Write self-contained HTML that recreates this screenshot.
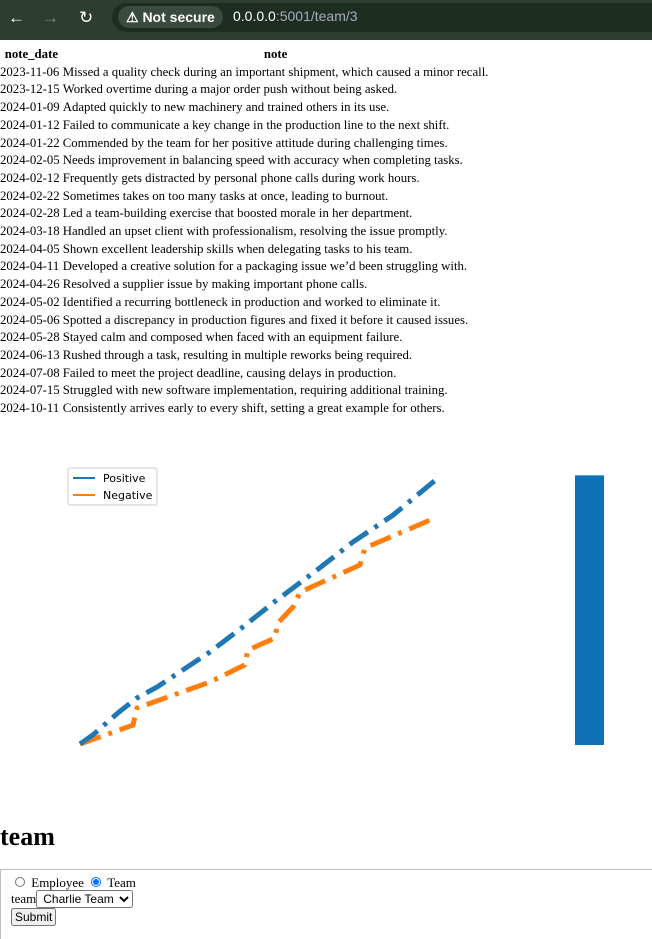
<!DOCTYPE html>
<html><head><meta charset="utf-8"><style>
body{margin:0;width:652px;height:928px;overflow:hidden;background:#fff;font-family:"Liberation Serif",serif;font-size:12.8px;position:relative}
#bar{position:absolute;left:0;top:0;width:652px;height:40px;background:#2c3e2f;color:#fff;font-family:"Liberation Sans",sans-serif}
#pill{position:absolute;left:112px;top:3px;width:560px;height:29px;border-radius:15px;background:#1e2d22}
#ns{position:absolute;left:118px;top:6px;height:22px;padding:0 8px;border-radius:11px;background:#3a4a3e;font-size:14px;font-weight:bold;line-height:22px}
#url{position:absolute;left:233px;top:8px;font-size:14px;color:#fff}
table{position:absolute;left:0;top:46px;border-collapse:collapse}
td,th{padding:0;line-height:17.7px;white-space:nowrap;text-align:left}
td:first-child{padding-right:3px}
th{text-align:center}
h1{position:absolute;left:0;top:822px;margin:0;font-size:26px}
form{position:absolute;left:0;top:869px;width:660px;height:70px;border-top:1px solid #bbb;border-left:1px solid #bbb;padding:6px 10px;box-sizing:border-box;font-size:13px;line-height:14px}
select,button{font-family:"Liberation Sans",sans-serif;font-size:12px;padding:0 2px;margin:0}
</style></head><body>
<div id="bar">
<span style="position:absolute;left:8px;top:8px;font-size:17px">←</span>
<span style="position:absolute;left:42px;top:8px;font-size:17px;color:#889">→</span>
<span style="position:absolute;left:79px;top:8px;font-size:17px">↻</span>
<div id="pill"></div>
<div id="ns">⚠ Not secure</div>
<div id="url">0.0.0.0<span style="color:#aab">:5001/team/3</span></div>
</div>
<table>
<tr><th>note_date</th><th>note</th></tr>
<tr><td>2023-11-06</td><td>Missed a quality check during an important shipment, which caused a minor recall.</td></tr>
<tr><td>2023-12-15</td><td>Worked overtime during a major order push without being asked.</td></tr>
<tr><td>2024-01-09</td><td>Adapted quickly to new machinery and trained others in its use.</td></tr>
<tr><td>2024-01-12</td><td>Failed to communicate a key change in the production line to the next shift.</td></tr>
<tr><td>2024-01-22</td><td>Commended by the team for her positive attitude during challenging times.</td></tr>
<tr><td>2024-02-05</td><td>Needs improvement in balancing speed with accuracy when completing tasks.</td></tr>
<tr><td>2024-02-12</td><td>Frequently gets distracted by personal phone calls during work hours.</td></tr>
<tr><td>2024-02-22</td><td>Sometimes takes on too many tasks at once, leading to burnout.</td></tr>
<tr><td>2024-02-28</td><td>Led a team-building exercise that boosted morale in her department.</td></tr>
<tr><td>2024-03-18</td><td>Handled an upset client with professionalism, resolving the issue promptly.</td></tr>
<tr><td>2024-04-05</td><td>Shown excellent leadership skills when delegating tasks to his team.</td></tr>
<tr><td>2024-04-11</td><td>Developed a creative solution for a packaging issue we’d been struggling with.</td></tr>
<tr><td>2024-04-26</td><td>Resolved a supplier issue by making important phone calls.</td></tr>
<tr><td>2024-05-02</td><td>Identified a recurring bottleneck in production and worked to eliminate it.</td></tr>
<tr><td>2024-05-06</td><td>Spotted a discrepancy in production figures and fixed it before it caused issues.</td></tr>
<tr><td>2024-05-28</td><td>Stayed calm and composed when faced with an equipment failure.</td></tr>
<tr><td>2024-06-13</td><td>Rushed through a task, resulting in multiple reworks being required.</td></tr>
<tr><td>2024-07-08</td><td>Failed to meet the project deadline, causing delays in production.</td></tr>
<tr><td>2024-07-15</td><td>Struggled with new software implementation, requiring additional training.</td></tr>
<tr><td>2024-10-11</td><td>Consistently arrives early to every shift, setting a great example for others.</td></tr>
</table>
<svg id="chart" width="652" height="400" style="position:absolute;left:0;top:440px"></svg>
<h1>team</h1>
<form>
<div><input type="radio" name="t" style="margin:0 3px 0 4px;width:10px;height:10px"> Employee <input type="radio" name="t" checked style="margin:0 3px 0 4px;width:10px;height:10px"> Team</div>
<div>team<select><option>Charlie Team</option></select></div>
<div><button type="button">Submit</button></div>
</form>
<script>
const posX=[0,3.6,10.6,15.9,21.5,36.3,45.5,53.9,66.2,76.3,87.4,100];
const posY=[0,3.4,11.7,17.3,21.4,34.6,44,53,65.4,76,86,100];
const negX=[0,14.8,15.9,36.3,46,46.9,54.4,55.3,59.5,61.5,78.2,79.6,99.2];
const negY=[0,7.1,13.5,23.3,29.7,35.3,39.8,45.5,51.5,57.1,67.3,73.7,85];
const barValues=[100];
const seriesNames=["Positive","Negative"];
const NS="http://www.w3.org/2000/svg";
const svg=document.getElementById('chart');
const sx=v=>80+v*3.58, sy=v=>304-v*2.66;
function line(xs,ys,c,n){const p=document.createElementNS(NS,'polyline');
p.setAttribute('points',xs.map((x,i)=>sx(x)+','+sy(ys[i])).join(' '));
p.setAttribute('fill','none');p.setAttribute('stroke',c);p.setAttribute('stroke-width','5');
p.setAttribute('stroke-dasharray','22 8 4 8');


svg.appendChild(p);}
line(negX,negY,'#ff7f0e','negative-line');
line(posX,posY,'#1f77b4','positive-line');
const b=document.createElementNS(NS,'rect');
b.setAttribute('x',575);b.setAttribute('width',29);
b.setAttribute('y',sy(barValues[0]*1.01));b.setAttribute('height',sy(0)+1-sy(barValues[0]*1.01));
b.setAttribute('fill','#0f72b4');


svg.appendChild(b);
const lg=document.createElementNS(NS,'g');


lg.innerHTML='<rect x="68" y="28" width="89" height="37" fill="#fff" stroke="#ccc" rx="2"/>';
seriesNames.forEach((s,i)=>{const y=38+i*17;
lg.innerHTML+='<line x1="73" x2="95" y1="'+y+'" y2="'+y+'" stroke="'+(i?'#ff7f0e':'#1f77b4')+'" stroke-width="2"/><text x="103" y="'+(y+4)+'" font-family="DejaVu Sans,sans-serif" font-size="11">'+s+'</text>';});
svg.appendChild(lg);
</script>
</body></html>
